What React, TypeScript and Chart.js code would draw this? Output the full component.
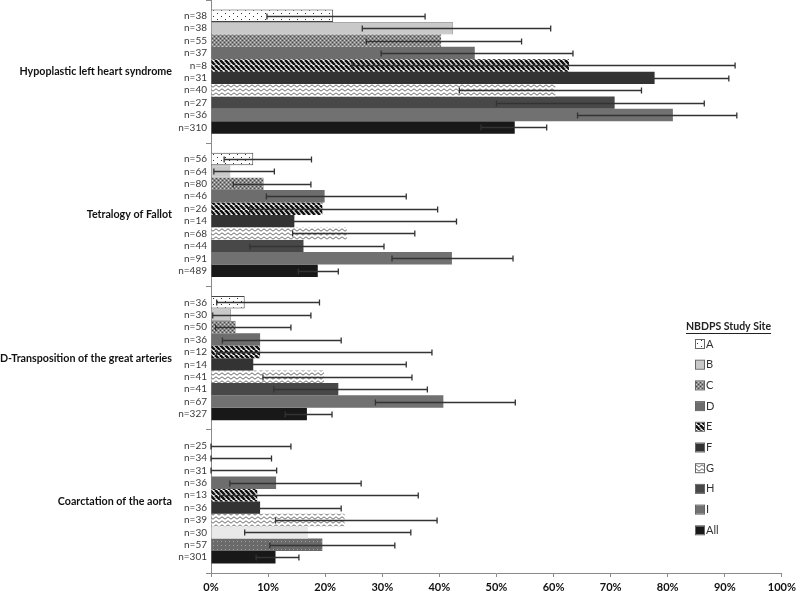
import React, { useEffect, useRef } from 'react';
import { Chart, registerables } from 'chart.js';

Chart.register(...registerables);

const defects = [
  'Hypoplastic left heart syndrome',
  'Tetralogy of Fallot',
  'D-Transposition of the great arteries',
  'Coarctation of the aorta',
];
const sites = ['A', 'B', 'C', 'D', 'E', 'F', 'G', 'H', 'I', 'All'];

const hlhsPct = [21.4, 42.4, 40.3, 46.2, 62.7, 77.7, 60.3, 70.7, 80.9, 53.2];
const hlhsLow = [9.8, 26.5, 27.2, 29.8, 24.7, 59.2, 43.5, 50.0, 64.2, 47.3];
const hlhsHigh = [37.5, 59.5, 54.4, 63.4, 91.8, 90.7, 75.4, 86.4, 92.1, 58.8];
const hlhsN = [38, 38, 55, 37, 8, 31, 40, 27, 36, 310];

const tofPct = [7.4, 3.4, 9.2, 19.9, 19.5, 14.6, 23.8, 16.2, 42.2, 18.7];
const tofLow = [2.3, 0.5, 3.9, 9.7, 6.8, 2.0, 14.3, 6.8, 31.7, 15.3];
const tofHigh = [17.6, 11.1, 17.5, 34.2, 39.7, 43.0, 35.7, 30.3, 52.9, 22.3];
const tofN = [56, 64, 80, 46, 26, 14, 68, 44, 91, 489];

const tgaPct = [5.9, 3.5, 4.3, 8.6, 8.6, 7.4, 19.8, 22.3, 40.7, 16.8];
const tgaLow = [1.0, 0.3, 0.8, 2.0, 1.0, 0.4, 9.1, 11.0, 28.8, 13.0];
const tgaHigh = [19.0, 17.5, 14.0, 22.8, 38.7, 34.2, 35.2, 37.9, 53.3, 21.2];
const tgaN = [36, 30, 50, 36, 12, 14, 41, 41, 67, 327];

const coaPct = [0, 0, 0, 11.4, 8.1, 8.6, 23.4, 17.0, 19.5, 11.3];
const coaLow = [0, 0, 0, 3.3, 1.5, 2.0, 11.3, 5.9, 10.3, 7.9];
const coaHigh = [14.0, 10.6, 11.5, 26.3, 36.3, 22.8, 39.6, 35.0, 32.2, 15.4];
const coaN = [25, 34, 31, 36, 13, 36, 39, 30, 57, 301];

const xTickValues = [0, 10, 20, 30, 40, 50, 60, 70, 80, 90, 100];

const pctByDefect = [hlhsPct, tofPct, tgaPct, coaPct];
const lowByDefect = [hlhsLow, tofLow, tgaLow, coaLow];
const highByDefect = [hlhsHigh, tofHigh, tgaHigh, coaHigh];
const nByDefect = [hlhsN, tofN, tgaN, coaN];

type Fill = string | CanvasPattern;

function tile(w: number, h: number, draw: (ctx: CanvasRenderingContext2D) => void): Fill {
  const c = document.createElement('canvas');
  c.width = w;
  c.height = h;
  const ctx = c.getContext('2d')!;
  draw(ctx);
  return ctx.createPattern(c, 'repeat') || '#888';
}

function makeFills(): Fill[] {
  const dots = tile(8, 6, (ctx) => {
    ctx.fillStyle = '#ffffff';
    ctx.fillRect(0, 0, 8, 6);
    ctx.fillStyle = '#333';
    ctx.fillRect(1, 1, 1, 1);
    ctx.fillRect(5, 4, 1, 1);
  });
  const check = tile(4, 4, (ctx) => {
    ctx.fillStyle = '#8a8a8a';
    ctx.fillRect(0, 0, 4, 4);
    ctx.fillStyle = '#d0d0d0';
    ctx.fillRect(0, 0, 1, 1);
    ctx.fillRect(2, 2, 1, 1);
    ctx.fillStyle = '#4a4a4a';
    ctx.fillRect(2, 0, 1, 1);
    ctx.fillRect(0, 2, 1, 1);
  });
  const stripes = tile(5, 5, (ctx) => {
    ctx.fillStyle = '#ffffff';
    ctx.fillRect(0, 0, 5, 5);
    ctx.strokeStyle = '#111';
    ctx.lineWidth = 2.6;
    for (const x0 of [-5, 0, 5]) {
      ctx.beginPath();
      ctx.moveTo(x0, 0);
      ctx.lineTo(x0 + 5, 5);
      ctx.stroke();
    }
  });
  const zigzag = tile(6, 4, (ctx) => {
    ctx.fillStyle = '#ffffff';
    ctx.fillRect(0, 0, 6, 4);
    ctx.strokeStyle = '#6a6a6a';
    ctx.lineWidth = 1;
    ctx.beginPath();
    ctx.moveTo(0, 0.8);
    ctx.lineTo(3, 3.2);
    ctx.lineTo(6, 0.8);
    ctx.stroke();
  });
  return [dots, '#c9c9c9', check, '#6d6d6d', stripes, '#333333', zigzag, '#484848', '#717171', '#181818'];
}

function makeCoaExtras(): { h: Fill; i: Fill } {
  const i = tile(4, 4, (ctx) => {
    ctx.fillStyle = '#6a6a6a';
    ctx.fillRect(0, 0, 4, 4);
    ctx.fillStyle = '#a0a0a0';
    ctx.fillRect(1, 1, 1, 1);
  });
  return { h: '#e9e9e9', i };
}

export default function App() {
  const ref = useRef<HTMLCanvasElement | null>(null);

  useEffect(() => {
    if (!ref.current) return;
    const fills = makeFills();
    const extras = makeCoaExtras();

    const datasets = sites.map((site, si) => {
      const bg = defects.map((_, di) => {
        if (di === 3 && si === 7) return extras.h;
        if (di === 3 && si === 8) return extras.i;
        return fills[si];
      });
      return {
        label: site,
        data: pctByDefect.map((arr) => arr[si]),
        backgroundColor: bg,
        borderColor: si === 0 ? '#444' : si === 1 ? '#a8a8a8' : 'rgba(0,0,0,0)',
        borderWidth: si <= 1 ? 1 : 0,
        barPercentage: 1,
        categoryPercentage: 0.866,
      };
    });

    const errorBars = {
      id: 'errorBars',
      afterDatasetsDraw(chart: any) {
        const ctx = chart.ctx as CanvasRenderingContext2D;
        const xs = chart.scales.x;
        ctx.save();
        ctx.strokeStyle = '#333333';
        ctx.lineWidth = 1.3;
        sites.forEach((_, si) => {
          const meta = chart.getDatasetMeta(si);
          meta.data.forEach((el: any, di: number) => {
            const x1 = xs.getPixelForValue(lowByDefect[di][si]);
            const x2 = xs.getPixelForValue(highByDefect[di][si]);
            const y = Math.round(el.y) + 0.5;
            ctx.beginPath();
            ctx.moveTo(x1, y);
            ctx.lineTo(x2, y);
            ctx.moveTo(x1, y - 3);
            ctx.lineTo(x1, y + 3);
            ctx.moveTo(x2, y - 3);
            ctx.lineTo(x2, y + 3);
            ctx.stroke();
          });
        });
        ctx.restore();
      },
    };

    const nLabels = {
      id: 'nLabels',
      afterDraw(chart: any) {
        const ctx = chart.ctx as CanvasRenderingContext2D;
        const left = chart.chartArea.left;
        ctx.save();
        ctx.fillStyle = '#3a3a3a';
        ctx.font = '10px Lato, "Open Sans", sans-serif';
        ctx.textAlign = 'right';
        ctx.textBaseline = 'middle';
        sites.forEach((_, si) => {
          const meta = chart.getDatasetMeta(si);
          meta.data.forEach((el: any, di: number) => {
            ctx.fillText('n=' + nByDefect[di][si], left - 4, el.y);
          });
        });
        ctx.restore();
      },
    };

    const legendBox = {
      id: 'legendBox',
      afterDraw(chart: any) {
        const ctx = chart.ctx as CanvasRenderingContext2D;
        ctx.save();
        ctx.font = 'bold 10.5px Lato, "Open Sans", sans-serif';
        ctx.fillStyle = '#222';
        ctx.textAlign = 'left';
        ctx.textBaseline = 'middle';
        const title = 'NBDPS Study Site';
        const tx = 686;
        const ty = 327;
        ctx.fillText(title, tx, ty);
        const tw = ctx.measureText(title).width;
        ctx.strokeStyle = '#222';
        ctx.lineWidth = 1;
        ctx.beginPath();
        ctx.moveTo(tx, ty + 6.5);
        ctx.lineTo(tx + tw, ty + 6.5);
        ctx.stroke();
        ctx.font = '11px Lato, "Open Sans", sans-serif';
        sites.forEach((s, si) => {
          const y = 344 + si * 20.7;
          ctx.fillStyle = fills[si] as any;
          ctx.fillRect(696, y - 4, 8, 8);
          ctx.strokeStyle = '#666';
          ctx.strokeRect(695.5, y - 4.5, 9, 9);
          ctx.fillStyle = '#333';
          ctx.fillText(s, 706, y);
        });
        ctx.restore();
      },
    };

    const chart = new Chart(ref.current, {
      type: 'bar',
      data: { labels: defects, datasets: datasets as any },
      options: {
        indexAxis: 'y',
        animation: false,
        responsive: true,
        maintainAspectRatio: false,
        devicePixelRatio: 1,
        layout: { padding: { top: 0, right: 0, left: 0, bottom: 0 } },
        plugins: { legend: { display: false }, tooltip: { enabled: false } },
        scales: {
          x: {
            type: 'linear',
            min: 0,
            max: 100,
            afterBuildTicks: (s: any) => {
              s.ticks = xTickValues.map((v) => ({ value: v }));
            },
            afterFit: (s: any) => {
              s.height = 18;
            },
            grid: { drawOnChartArea: false, tickLength: 4, color: '#8a8a8a' },
            border: { color: '#8a8a8a' },
            ticks: {
              padding: 4,
              color: '#111',
              font: { family: 'Lato, "Open Sans", sans-serif', size: 11, weight: 'bold' },
              callback: (v: any) => v + '%',
              maxRotation: 0,
              autoSkip: false,
            },
          },
          y: {
            type: 'category',
            afterFit: (s: any) => {
              s.width = 211;
              s.paddingTop = 0;
              s.paddingBottom = 0;
            },
            grid: { drawOnChartArea: false, offset: true, tickLength: 5, color: '#8a8a8a' },
            border: { color: '#8a8a8a' },
            ticks: {
              padding: 34,
              color: '#111',
              font: { family: 'Lato, "Open Sans", sans-serif', size: 10.7, weight: 'bold' },
            },
          },
        },
      },
      plugins: [errorBars, nLabels, legendBox],
    });
    return () => chart.destroy();
  }, []);

  return (
    <div style={{ position: 'absolute', left: 0, top: 0, width: 800, height: 591, background: '#fff' }}>
      <canvas ref={ref} />
    </div>
  );
}
